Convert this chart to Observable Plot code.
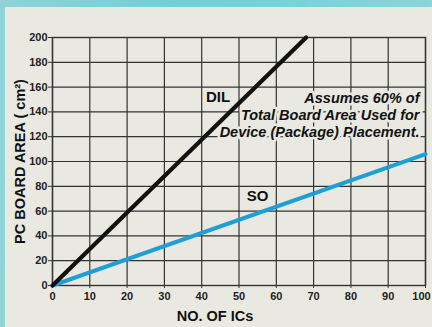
<!DOCTYPE html>
<html>
<head>
<meta charset="utf-8">
<script src="https://cdn.jsdelivr.net/npm/d3@7"></script>
<script src="https://cdn.jsdelivr.net/npm/@observablehq/plot@0.6"></script>
<style>
  html, body { margin: 0; padding: 0; background: #e9e9e1; }
  #wrap { position: relative; width: 432px; height: 327px; overflow: hidden; background: #e9e9e1; }
  #top { position: absolute; left: 0; top: 0; width: 432px; height: 7px; background: linear-gradient(90deg, #8fd3d8, #6fd0d6 40%, #78d3d8 70%, #8ad6da); }
  #left { position: absolute; left: 0; top: 0; width: 5px; height: 327px; background: linear-gradient(180deg, #8fd3d8, #92d4d6); }
  svg { display: block; }
</style>
</head>
<body>
<div id="wrap"><div id="chart"></div><div id="top"></div><div id="left"></div></div>
<script>
// Data
const seriesNames = ["DIL", "SO"];
const dilICs = [0, 68];
const dilArea = [0, 200];
const soICs = [0, 100];
const soArea = [0, 106];
const xTicks = [0, 10, 20, 30, 40, 50, 60, 70, 80, 90, 100];
const yTicks = [0, 20, 40, 60, 80, 100, 120, 140, 160, 180, 200];
const xTitle = "NO. OF ICs";
const yTitle = "PC BOARD AREA ( cm²)";
const note = ["Assumes 60% of", "Total Board Area Used for", "Device (Package) Placement."];

const dil = dilICs.map((x, i) => ({x, y: dilArea[i]}));
const so = soICs.map((x, i) => ({x, y: soArea[i]}));
const xMax = xTicks[xTicks.length - 1];

const bg = "#e9e9e1";
const font = "'Liberation Sans', Arial, Helvetica, sans-serif";
const tickStyle = { stroke: "#333", fontSize: 11, fontWeight: "bold", fill: "#222" };

const chart = Plot.plot({
  width: 432,
  height: 327,
  marginLeft: 52,
  marginRight: 7,
  marginTop: 37,
  marginBottom: 42,
  style: { background: "transparent", fontFamily: font, fontWeight: "bold", fontSize: "11px", color: "#222" },
  x: { domain: [0, 100], ticks: xTicks, label: null },
  y: { domain: [0, 200], ticks: yTicks, label: null },
  marks: [
    Plot.gridX(xTicks, { stroke: "#333", strokeOpacity: 1, strokeWidth: 1.2 }),
    Plot.gridY(yTicks, { stroke: "#333", strokeOpacity: 1, strokeWidth: 1.2 }),
    Plot.frame({ stroke: "#333", strokeWidth: 1.4 }),
    Plot.axisX(xTicks, { ...tickStyle, tickSize: 3, tickPadding: 4, tickFormat: d => d === xMax ? "" : String(d) }),
    Plot.axisX([xMax], { ...tickStyle, tickSize: 0, tickPadding: 7, dx: -4 }),
    Plot.axisY(yTicks, { ...tickStyle, tickSize: 4, tickPadding: 1 }),
    Plot.line(so, { x: "x", y: "y", stroke: "#1e9fd6", strokeWidth: 4 }),
    Plot.line(dil, { x: "x", y: "y", stroke: "#111", strokeWidth: 4.2 }),
    Plot.text([note.join("\n")], { x: 98.4, y: 138, text: d => d, textAnchor: "end", lineAnchor: "middle", lineHeight: 1.17, fontSize: 14.5, fontWeight: "bold", fontStyle: "italic", fill: "#111", stroke: bg, strokeWidth: 5 }),
    Plot.text([seriesNames[0]], { x: 44.4, y: 152, text: d => d, fontSize: 15, fontWeight: "bold", fill: "#111", stroke: bg, strokeWidth: 4 }),
    Plot.text([seriesNames[1]], { x: 55, y: 72, text: d => d, fontSize: 15, fontWeight: "bold", fill: "#111", stroke: bg, strokeWidth: 4 }),
    Plot.text([xTitle], { frameAnchor: "bottom", dx: -24, dy: 35, text: d => d, fontSize: 14.5, fontWeight: "bold", fill: "#111" }),
    Plot.text([yTitle], { frameAnchor: "left", textAnchor: "middle", dx: -32, rotate: -90, text: d => d, fontSize: 14.5, fontWeight: "bold", fill: "#111" })
  ]
});
document.getElementById("chart").appendChild(chart);
</script>
</body>
</html>
